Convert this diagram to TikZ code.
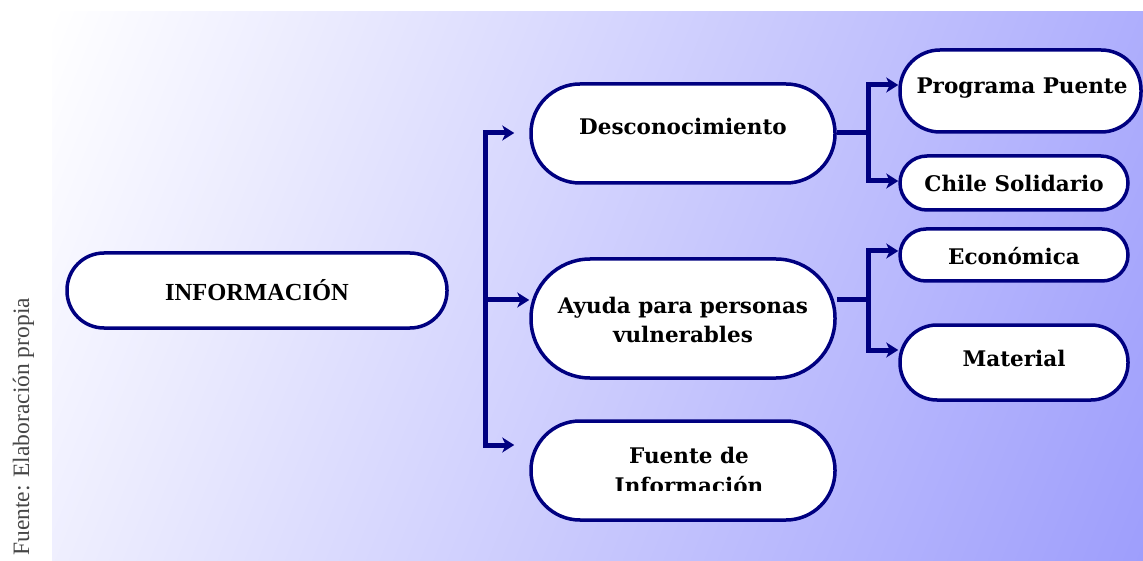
\documentclass[tikz,border=0pt]{standalone}
\usepackage{fontspec}
\setmainfont{DejaVu Serif}
\newfontfamily\timesfont{Liberation Serif}
\usetikzlibrary{arrows.meta,calc}
\definecolor{navy}{RGB}{0,0,128}
\pgfdeclarehorizontalshading{bgshade}{100bp}{color(0bp)=(white); color(17.5bp)=(white); color(82.5bp)=({rgb,255:red,158;green,158;blue,252}); color(100bp)=({rgb,255:red,158;green,158;blue,252})}
\begin{document}
\begin{tikzpicture}[x=1pt,y=-1pt,
  box/.style={draw=navy, line width=3.5pt, fill=white, inner sep=0pt},
  txt/.style={font=\fontsize{21.5}{29}\selectfont\bfseries, align=center, inner sep=0pt},
  conn/.style={draw=navy, line width=5pt},
  arr/.style={draw=navy, line width=5pt, -{Stealth[length=12pt,width=15pt,inset=3.5pt]}}]
\useasboundingbox (0,0) rectangle (1143,561);
\clip (0,0) rectangle (1143,561);
\shade[shading=bgshade, shading angle=-22] (52,12) rectangle (1143,561);
% vertical source text
\node[rotate=90, anchor=base west, font=\fontsize{23.5}{28}\selectfont\timesfont, text={rgb,255:red,70;green,70;blue,70}, inner sep=0pt] (src) at (29,556) {Fuente: Elaboración propia};
% boxes
\node[box, minimum width=380pt, minimum height=75pt, rounded corners=37pt] (info) at (257,290.5) {};
\node[txt, font=\fontsize{24.5}{29}\selectfont\bfseries\timesfont] (infot) at (257,290) {INFORMACIÓN};
\node[box, minimum width=304pt, minimum height=99pt, rounded corners=49pt] (desc) at (683,133.5) {};
\node[txt] (desct) at (683,126) {Desconocimiento};
\node[box, minimum width=304pt, minimum height=119pt, rounded corners=59pt] (ayuda) at (683,318.5) {};
\node[txt] (ayudat) at (683,320) {Ayuda para personas\\vulnerables};
\node[box, minimum width=304pt, minimum height=99pt, rounded corners=49pt] (fuente) at (683,470.5) {};
\begin{scope}
\clip (531,421) rectangle (835,490.5);
\node[txt, font=\fontsize{21.5}{30}\selectfont\bfseries] (fuentet) at (689,470) {Fuente de\\Información};
\end{scope}
\node[box, minimum width=241pt, minimum height=82pt, rounded corners=40pt] (prog) at (1020.5,91) {};
\node[txt] (progt) at (1022,88) {Programa Puente};
\node[box, minimum width=228pt, minimum height=54pt, rounded corners=27pt] (chile) at (1014,183) {};
\node[txt] (chilet) at (1014,183) {Chile Solidario};
\node[box, minimum width=228pt, minimum height=52pt, rounded corners=26pt] (econ) at (1014,255) {};
\node[txt] (econt) at (1014,256) {Económica};
\node[box, minimum width=228pt, minimum height=75pt, rounded corners=37pt] (mat) at (1014,362.5) {};
\node[txt] (matt) at (1014,358) {Material};
% connectors left group
\coordinate (t1) at (485,133);
\coordinate (t2) at (485,300);
\coordinate (t3) at (485,445);
\draw[conn, line cap=rect] (t1) -- (t3);
\draw[arr] (t1) -- ([xshift=-15pt]desc.west |- t1);
\draw[arr] (t2) -- (ayuda.west |- t2);
\draw[arr] (t3) -- ([xshift=-15pt]fuente.west |- t3);
% right group 1
\coordinate (j1) at (868,133);
\coordinate (j1a) at (868,85);
\coordinate (j1b) at (868,181);
\draw[conn] (desc.east |- j1) -- (j1);
\draw[conn, line cap=rect] (j1a) -- (j1b);
\draw[arr] (j1a) -- (prog.west |- j1a);
\draw[arr] (j1b) -- (chile.west |- j1b);
% right group 2
\coordinate (j2) at (868,300);
\coordinate (j2a) at (868,251);
\coordinate (j2b) at (868,350);
\draw[conn] (ayuda.east |- j2) -- (j2);
\draw[conn, line cap=rect] (j2a) -- (j2b);
\draw[arr] (j2a) -- (econ.west |- j2a);
\draw[arr] (j2b) -- (mat.west |- j2b);
\end{tikzpicture}
\end{document}
